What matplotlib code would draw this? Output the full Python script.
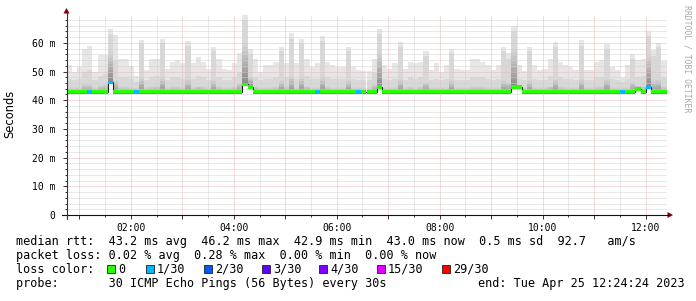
import matplotlib
matplotlib.use('Agg')
import matplotlib.pyplot as plt
import numpy as np
from matplotlib.patches import Polygon, Rectangle
from matplotlib.lines import Line2D

plt.rcParams['font.family'] = ['DejaVu Sans Mono']

# ---------------- data ----------------
t_start = 0.75                          # 00:45 (hours)
t_end = 12 + 24 / 60 + 24 / 3600        # 12:24:24
y_max = 69.7                            # ms (autoscaled top)

# max ping per interval (ms)
smoke_max = [52.2, 49.9, 51.6, 58.0, 58.8, 50.0, 55.7, 55.7, 64.7, 62.7,
             54.5, 54.5, 52.0, 48.4, 61.0, 50.5, 54.2, 54.5, 61.5, 51.0,
             53.4, 54.0, 52.8, 60.6, 52.8, 55.1, 53.4, 51.0, 58.6, 54.2,
             51.0, 50.5, 53.0, 56.3, 69.7, 58.0, 54.2, 50.0, 52.2, 52.2,
             53.4, 58.6, 53.0, 63.3, 52.8, 61.2, 54.5, 51.6, 52.8, 62.3,
             53.4, 52.2, 51.6, 51.6, 58.6, 51.6, 50.5, 50.1, 50.1, 54.5,
             64.7, 52.2, 51.0, 52.8, 60.3, 51.0, 53.4, 52.8, 53.4, 57.1,
             50.5, 52.8, 50.0, 52.2, 58.0, 50.8, 50.5, 50.5, 54.2, 54.2,
             53.4, 52.4, 50.5, 52.2, 58.6, 56.3, 65.8, 52.2, 50.2, 58.4,
             52.2, 50.5, 51.0, 54.5, 60.3, 53.4, 52.2, 51.6, 50.5, 60.9,
             50.7, 50.5, 53.4, 54.0, 59.5, 51.6, 50.5, 48.1, 52.2, 56.2,
             54.0, 54.5, 64.2, 57.4, 60.0, 53.6]

# upper (~90th percentile) ping per interval (ms)
smoke_hi = [47.5, 47.0, 47.5, 50.0, 50.5, 47.0, 48.5, 49.0, 63.0, 54.0,
            48.0, 48.0, 47.5, 46.5, 59.5, 47.0, 48.0, 48.5, 60.0, 47.0,
            48.0, 48.0, 47.5, 59.0, 47.5, 48.5, 48.0, 47.0, 57.0, 48.0,
            47.0, 47.0, 48.0, 50.0, 68.0, 56.0, 48.0, 47.0, 47.5, 47.5,
            48.0, 57.0, 48.0, 61.5, 47.5, 59.5, 48.5, 47.5, 47.5, 60.5,
            48.0, 47.5, 47.5, 47.5, 57.0, 47.5, 47.0, 47.0, 47.0, 49.5,
            63.0, 47.5, 47.0, 47.5, 58.5, 47.0, 48.0, 47.5, 48.0, 55.5,
            47.0, 47.5, 47.0, 47.5, 56.5, 47.0, 47.0, 47.0, 48.0, 48.0,
            48.0, 47.5, 47.0, 47.5, 57.0, 54.5, 64.0, 47.5, 47.0, 57.0,
            47.5, 47.0, 47.0, 48.5, 58.5, 48.0, 47.5, 47.5, 47.0, 59.0,
            47.0, 47.0, 48.0, 48.0, 58.0, 47.5, 47.0, 46.5, 47.5, 54.5,
            48.0, 48.5, 62.5, 55.5, 58.5, 48.0]

# middle (~75th percentile) ping per interval (ms)
smoke_mid = [44.5, 44.5, 44.5, 45.5, 45.5, 44.5, 45.2, 45.5, 57.0, 47.0,
             44.8, 44.8, 44.5, 44.3, 48.0, 44.5, 44.8, 45.0, 48.0, 44.5,
             44.8, 44.8, 44.5, 47.5, 44.5, 45.0, 44.8, 44.5, 47.0, 44.8,
             44.5, 44.5, 44.8, 46.0, 60.0, 48.0, 44.8, 44.5, 44.5, 44.5,
             44.8, 47.0, 44.8, 48.5, 44.5, 48.0, 45.0, 44.5, 44.5, 48.0,
             44.8, 44.5, 44.5, 44.5, 47.0, 44.5, 44.5, 44.5, 44.5, 45.5,
             57.0, 44.5, 44.5, 44.5, 47.5, 44.5, 44.8, 44.5, 44.8, 46.5,
             44.5, 44.5, 44.5, 44.5, 47.0, 44.5, 44.5, 44.5, 44.8, 44.8,
             44.8, 44.5, 44.5, 44.5, 47.0, 46.5, 58.0, 45.0, 44.5, 47.0,
             44.5, 44.5, 44.5, 45.0, 47.5, 44.8, 44.5, 44.5, 44.5, 47.5,
             44.5, 44.5, 44.8, 44.8, 47.5, 44.5, 44.5, 44.3, 44.5, 46.5,
             45.0, 45.0, 56.0, 47.0, 47.5, 44.8]

# min ping per interval (ms)
smoke_min = [42.3, 42.3, 42.3, 42.3, 42.3, 42.3, 42.3, 42.3, 46.2, 42.3,
             42.3, 42.3, 42.3, 42.3, 42.3, 42.3, 42.3, 42.3, 42.3, 42.3,
             42.3, 42.3, 42.3, 42.3, 42.3, 42.3, 42.3, 42.3, 42.3, 42.3,
             42.3, 42.3, 42.3, 42.3, 45.5, 44.5, 42.3, 42.3, 42.3, 42.3,
             42.3, 42.3, 42.3, 42.3, 42.3, 42.3, 42.3, 42.3, 42.3, 42.3,
             42.3, 42.3, 42.3, 42.3, 42.3, 42.3, 42.3, 42.3, 42.3, 42.3,
             44.5, 42.3, 42.3, 42.3, 42.3, 42.3, 42.3, 42.3, 42.3, 42.3,
             42.3, 42.3, 42.3, 42.3, 42.3, 42.3, 42.3, 42.3, 42.3, 42.3,
             42.3, 42.3, 42.3, 42.3, 42.3, 42.3, 44.5, 44.5, 42.3, 42.3,
             42.3, 42.3, 42.3, 42.3, 42.3, 42.3, 42.3, 42.3, 42.3, 42.3,
             42.3, 42.3, 42.3, 42.3, 42.3, 42.3, 42.3, 42.3, 42.3, 42.3,
             44.0, 42.3, 44.5, 42.3, 42.3, 42.3]

# median rtt per interval (ms)
median = [43.0, 43.0, 43.0, 43.0, 43.0, 43.0, 43.0, 43.0, 46.2, 43.0,
          43.0, 43.0, 43.0, 43.0, 43.0, 43.0, 43.0, 43.0, 43.0, 43.0,
          43.0, 43.0, 43.0, 43.0, 43.0, 43.0, 43.0, 43.0, 43.0, 43.0,
          43.0, 43.0, 43.0, 43.0, 45.5, 44.5, 43.0, 43.0, 43.0, 43.0,
          43.0, 43.0, 43.0, 43.0, 43.0, 43.0, 43.0, 43.0, 43.0, 43.0,
          43.0, 43.0, 43.0, 43.0, 43.0, 43.0, 43.0, 43.0, 43.0, 43.0,
          44.5, 43.0, 43.0, 43.0, 43.0, 43.0, 43.0, 43.0, 43.0, 43.0,
          43.0, 43.0, 43.0, 43.0, 43.0, 43.0, 43.0, 43.0, 43.0, 43.0,
          43.0, 43.0, 43.0, 43.0, 43.0, 43.0, 44.5, 44.5, 43.0, 43.0,
          43.0, 43.0, 43.0, 43.0, 43.0, 43.0, 43.0, 43.0, 43.0, 43.0,
          43.0, 43.0, 43.0, 43.0, 43.0, 43.0, 43.0, 43.0, 43.0, 43.0,
          44.0, 43.0, 44.5, 43.0, 43.0, 43.0]

# lost pings (of 30) per interval
loss = [0, 0, 0, 0, 1, 0, 0, 0, 1, 0,
        0, 0, 0, 1, 0, 0, 0, 0, 0, 0,
        0, 0, 0, 0, 0, 0, 0, 0, 0, 0,
        0, 0, 0, 0, 0, 0, 0, 0, 0, 0,
        0, 0, 0, 0, 0, 0, 0, 0, 1, 0,
        0, 0, 0, 0, 0, 0, 1, 0, 0, 0,
        0, 0, 0, 0, 0, 0, 0, 0, 0, 0,
        0, 0, 0, 0, 0, 0, 0, 0, 0, 0,
        0, 0, 0, 0, 0, 0, 0, 0, 0, 0,
        0, 0, 0, 0, 0, 0, 0, 0, 0, 0,
        0, 0, 0, 0, 0, 0, 0, 1, 0, 0,
        0, 0, 1, 0, 0, 0]

loss_levels = [0, 1, 2, 3, 4, 15, 29]
loss_labels = ['0', '1/30', '2/30', '3/30', '4/30', '15/30', '29/30']
loss_colors = ['#26ff00', '#00b8ff', '#0059ff', '#5e00ff', '#7e00ff', '#dd00ff', '#ff0000']

y_major = [0, 10, 20, 30, 40, 50, 60]
y_major_labels = ['0', '10 m', '20 m', '30 m', '40 m', '50 m', '60 m']
x_label_hours = [2, 4, 6, 8, 10, 12]
x_labels = ['02:00', '04:00', '06:00', '08:00', '10:00', '12:00']

stats_line = "median rtt:  43.2 ms avg  46.2 ms max  42.9 ms min  43.0 ms now  0.5 ms sd  92.7   am/s"
loss_line = "packet loss: 0.02 % avg  0.28 % max  0.00 % min  0.00 % now"
probe_line = "probe:       30 ICMP Echo Pings (56 Bytes) every 30s"
end_line = "end: Tue Apr 25 12:24:24 2023"

# ---------------- figure ----------------
W, H = 696, 301
fig = plt.figure(figsize=(W / 100, H / 100), dpi=100, facecolor='white')


def fx(px):
    return px / W


def fy(py):
    return 1 - py / H


L_px, R_px, B_px, T_px = 66.5, 666.5, 215.0, 15.0
ax = fig.add_axes([fx(L_px), fy(B_px), (R_px - L_px) / W, (B_px - T_px) / H])
ax.set_facecolor('white')
ax.set_xlim(t_start, t_end)
ax.set_ylim(0, y_max)
for s in ax.spines.values():
    s.set_visible(False)

N = len(smoke_max)
edges = np.linspace(t_start, t_end, N + 1)
left = edges[:-1]
width = edges[1] - edges[0]

smax = np.array(smoke_max)
shi = np.array(smoke_hi)
smid = np.array(smoke_mid)
smin = np.array(smoke_min)
med = np.array(median)
lossa = np.array(loss)

# smoke: light outer band, medium band, dark gradient
ax.bar(left, smax - smin, bottom=smin, width=width, align='edge', color='#e6e6e6',
       linewidth=0, antialiased=False, zorder=1)
ax.bar(left, shi - smin, bottom=smin, width=width, align='edge', color='#d8d8d8',
       linewidth=0, antialiased=False, zorder=1.1)
K = 10
shades = np.linspace(0.55, 0.83, K)
for k in range(K):
    lo = smin + (smid - smin) * k / K
    hi = smin + (smid - smin) * (k + 1) / K
    ax.bar(left, hi - lo, bottom=lo, width=width, align='edge',
           color=(shades[k],) * 3, linewidth=0, antialiased=False, zorder=1.2)

# grid (drawn over the smoke, as rrdtool does)
minor_c = '#d2d2d2'
major_c = '#eab8b8'
dash = (0, (1, 1))
for v in np.arange(2, 70, 2):
    c = major_c if v % 10 == 0 else minor_c
    ax.axhline(v, color=c, lw=0.72, ls=dash, zorder=2)
for h in np.arange(1.0, 12.5, 0.5):
    c = major_c if h % 1 == 0 else minor_c
    ax.axvline(h, color=c, lw=0.72, ls=dash, zorder=2)

# median line and loss-coloured band
ax.stairs(med, edges, baseline=None, color='#202020', lw=0.8, zorder=3)
sw = 0.65
band_colors = [loss_colors[loss_levels.index(l)] for l in lossa]
ax.bar(left, 2 * sw, bottom=med - sw, width=width, align='edge', color=band_colors,
       linewidth=0, antialiased=False, zorder=4)

# ticks
ax.set_yticks(y_major)
ax.set_yticklabels(y_major_labels)
ax.set_yticks(np.arange(2, 70, 2), minor=True)
ax.set_xticks(np.arange(1, 13, 1))
ax.set_xticklabels([x_labels[x_label_hours.index(h)] if h in x_label_hours else ''
                    for h in range(1, 13)])
ax.set_xticks(np.arange(1.5, 12.5, 1), minor=True)
ax.tick_params(axis='both', which='major', labelsize=7, length=3, width=0.7,
               color='#333333', direction='out', pad=3)
ax.tick_params(axis='both', which='minor', length=1.5, width=0.7, color='#333333',
               direction='out')
ax.tick_params(axis='y', pad=5)

# axis lines and arrows
fig.add_artist(Line2D([fx(62), fx(669)], [fy(B_px), fy(B_px)], color='#111111', lw=0.8))
fig.add_artist(Line2D([fx(L_px), fx(L_px)], [fy(219), fy(12)], color='#333333', lw=0.8))
fig.add_artist(Polygon([[fx(667.5), fy(212)], [fx(673), fy(215)], [fx(667.5), fy(218)]],
                       closed=True, color='#7f0000', lw=0, transform=fig.transFigure))
fig.add_artist(Polygon([[fx(63.5), fy(13.5)], [fx(66.5), fy(8)], [fx(69.5), fy(13.5)]],
                       closed=True, color='#7f0000', lw=0, transform=fig.transFigure))

# y label and watermark
fig.text(fx(10), fy(114), 'Seconds', rotation=90, ha='center', va='center',
         family='DejaVu Sans', fontsize=8.3)
fig.text(fx(687), fy(59), 'RRDTOOL / TOBI OETIKER', rotation=-90, ha='center', va='center',
         fontsize=5.9, color='#a8a8a8')

# legend
fs = 8.5
fig.text(fx(16), fy(241), stats_line, fontsize=fs, va='center')
fig.text(fx(16), fy(255.5), loss_line, fontsize=fs, va='center')
fig.text(fx(16), fy(269.5), 'loss color:', fontsize=fs, va='center')
box_x = [107, 146, 204, 262, 319, 377, 442]
for bx, lab, col in zip(box_x, loss_labels, loss_colors):
    fig.add_artist(Rectangle((fx(bx), fy(273)), 8 / W, 8 / H, transform=fig.transFigure,
                             facecolor=col, edgecolor='#202020', lw=0.6))
    fig.text(fx(bx + 11), fy(269.5), lab, fontsize=fs, va='center')
fig.text(fx(16), fy(283.5), probe_line, fontsize=fs, va='center')
fig.text(fx(478), fy(283.5), end_line, fontsize=fs, va='center')

fig.savefig('out.png', dpi=100, facecolor='white')
